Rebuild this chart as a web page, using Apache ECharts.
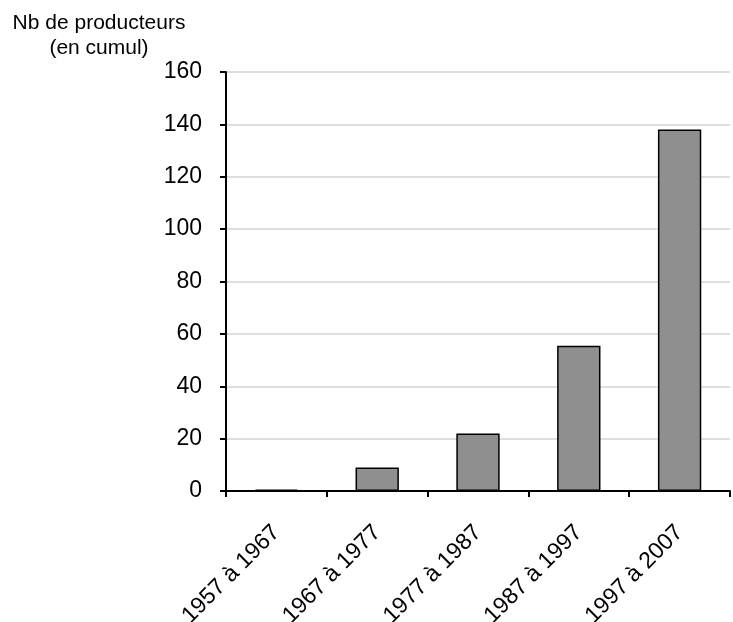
<!DOCTYPE html>
<html><head><meta charset="utf-8">
<script src="https://cdn.jsdelivr.net/npm/echarts@6/dist/echarts.min.js"></script>
<style>html,body{margin:0;padding:0;background:#fff}#c{width:733px;height:622px}</style>
</head><body><div id="c"></div>
<script>
const categories = ['1957 à 1967','1967 à 1977','1977 à 1987','1987 à 1997','1997 à 2007'];
const values = [0.5, 9, 22, 55.5, 138];
const yTitleLines = ['Nb de producteurs', '(en cumul)'];

const FF = '"Liberation Sans", Arial, Helvetica, sans-serif';
const chart = echarts.init(document.getElementById('c'));
chart.setOption({
  animation: false,
  backgroundColor: '#fff',
  grid: {left: 226, right: 3, top: 72, bottom: 131, containLabel: false, outerBoundsMode: 'none'},
  graphic: [{
    type: 'text',
    style: {text: yTitleLines.join('\n'), x: 99, y: 11, font: '21px ' + FF, fill: '#000', align: 'center', verticalAlign: 'top', lineHeight: 25},
  }],
  xAxis: {
    type: 'category', data: categories,
    axisLine: {lineStyle: {color: '#000', width: 2}},
    axisTick: {show: true, length: 6, lineStyle: {color: '#000', width: 2}},
    axisLabel: {rotate: 45, color: '#000', fontSize: 23, fontFamily: FF, margin: 38}
  },
  yAxis: {
    type: 'value', min: 0, max: 160, interval: 20,
    axisLine: {show: true, lineStyle: {color: '#000', width: 2}},
    axisTick: {show: true, length: 6, lineStyle: {color: '#000', width: 2}},
    splitLine: {lineStyle: {color: '#d4d4d4', width: 1.5}},
    axisLabel: {color: '#000', fontSize: 23, fontFamily: FF, margin: 24}
  },
  series: [{
    type: 'bar', data: values, barWidth: '43%',
    itemStyle: {color: '#8f8f8f', borderColor: '#000', borderWidth: 1.5}
  }]
});
</script></body></html>
